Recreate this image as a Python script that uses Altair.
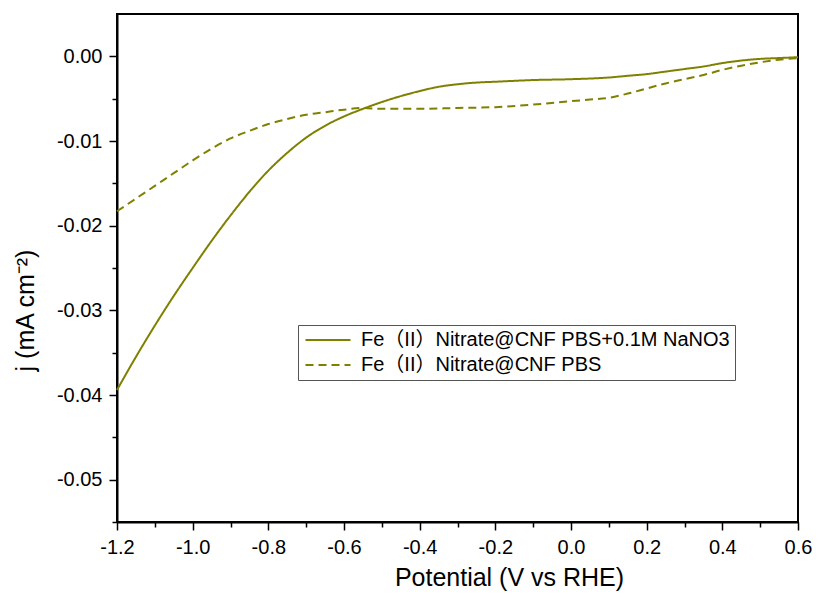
import altair as alt
import pandas as pd

series_names = ["Fe（II）Nitrate@CNF PBS+0.1M NaNO3", "Fe（II）Nitrate@CNF PBS"]

x_solid = [-1.2, -1.15, -1.1, -1.05, -1.0, -0.95, -0.9, -0.85, -0.8, -0.75, -0.7, -0.65,
           -0.6, -0.55, -0.5, -0.45, -0.4, -0.35, -0.3, -0.25, -0.2, -0.1, 0.0, 0.1,
           0.15, 0.2, 0.25, 0.3, 0.35, 0.4, 0.45, 0.5, 0.55, 0.6]
y_solid = [-0.0394, -0.0355, -0.0318, -0.0283, -0.0250, -0.0218, -0.0188, -0.0160, -0.0135,
           -0.0114, -0.0096, -0.0082, -0.0071, -0.0062, -0.0054, -0.0047, -0.0041, -0.0036,
           -0.0033, -0.0031, -0.0030, -0.0028, -0.0027, -0.0025, -0.0023, -0.0021, -0.0018,
           -0.0015, -0.0012, -0.0008, -0.0005, -0.0003, -0.0002, -0.0001]

x_dash = [-1.2, -1.15, -1.1, -1.05, -1.0, -0.95, -0.9, -0.85, -0.8, -0.75, -0.7, -0.65,
          -0.6, -0.55, -0.5, -0.4, -0.3, -0.2, -0.1, 0.0, 0.05, 0.1, 0.15, 0.2, 0.25,
          0.3, 0.35, 0.4, 0.45, 0.5, 0.55, 0.6]
y_dash = [-0.0183, -0.0168, -0.0153, -0.0138, -0.0123, -0.0109, -0.0097, -0.0088, -0.0080,
          -0.0074, -0.0069, -0.0066, -0.0063, -0.0061, -0.0062, -0.0062, -0.0061, -0.0060,
          -0.0057, -0.0053, -0.0051, -0.0049, -0.0044, -0.0038, -0.0032, -0.0027, -0.0022,
          -0.0016, -0.0011, -0.0007, -0.0004, -0.0002]

x_tick_values = [-1.2, -1.1, -1.0, -0.9, -0.8, -0.7, -0.6, -0.5, -0.4, -0.3, -0.2, -0.1,
                 0.0, 0.1, 0.2, 0.3, 0.4, 0.5, 0.6]
y_tick_values = [-0.055, -0.05, -0.045, -0.04, -0.035, -0.03, -0.025, -0.02, -0.015,
                 -0.01, -0.005, 0.0]

line_color = "#808000"
font = "Liberation Sans, Arial, Noto Sans CJK SC"

df = pd.concat([
    pd.DataFrame({"x": x_solid, "y": y_solid, "series": series_names[0]}),
    pd.DataFrame({"x": x_dash, "y": y_dash, "series": series_names[1]}),
])

x_major = "abs(datum.value*5 - round(datum.value*5)) < 1e-6"
y_major = "abs(datum.value*100 - round(datum.value*100)) < 1e-6"

x_axis = alt.Axis(
    values=x_tick_values,
    title="Potential (V vs RHE)",
    grid=False,
    domainColor="black", domainWidth=2,
    tickColor="black", tickWidth=1.5,
    tickSize={"condition": {"test": x_major, "value": 8}, "value": 5},
    labelExpr="(" + x_major + ") ? replace(format(datum.value, '.1f'), '\u2212', '-') : ''",
    labelFont=font, labelFontSize=20, labelColor="black", labelPadding=7,
    labelFlush=False,
    titleFont=font, titleFontSize=25, titleFontWeight="normal", titleColor="black",
    titleX=392, titleY=63, titleAlign="center", titleBaseline="alphabetic",
)
y_axis = alt.Axis(
    values=y_tick_values,
    title="j (mA cm⁻²)",
    grid=False,
    domainColor="black", domainWidth=2,
    tickColor="black", tickWidth=1.5,
    tickSize={"condition": {"test": y_major, "value": 8}, "value": 5},
    labelExpr="(" + y_major + ") ? replace(format(datum.value, '.2f'), '\u2212', '-') : ''",
    labelFont=font, labelFontSize=20, labelColor="black", labelPadding=7,
    labelFlush=False,
    titleFont=font, titleFontSize=25, titleFontWeight="normal", titleColor="black",
    titleX=-84, titleY=296, titleAlign="center", titleBaseline="alphabetic", titleAngle=270,
)

legend = alt.Legend(
    orient="none", legendX=181, legendY=311,
    strokeColor="#555555", fillColor="white", padding=5,
    symbolType="M-1,0L5,0", symbolSize=225, symbolStrokeWidth=2,
    labelFont=font, labelFontSize=20, labelColor="black", labelOffset=38,
    labelLimit=1000, rowPadding=5,
)

chart = alt.Chart(df).mark_line(strokeWidth=2, interpolate="monotone").encode(
    x=alt.X("x:Q", scale=alt.Scale(domain=[-1.2, 0.6], nice=False, zero=False), axis=x_axis),
    y=alt.Y("y:Q", scale=alt.Scale(domain=[-0.055, 0.005], nice=False, zero=False), axis=y_axis),
    color=alt.Color("series:N", title=None,
                    scale=alt.Scale(domain=series_names, range=[line_color, line_color]),
                    legend=legend),
    strokeDash=alt.StrokeDash("series:N", title=None,
                              scale=alt.Scale(domain=series_names, range=[[1, 0], [8, 5]]),
                              legend=legend),
).properties(
    width=681, height=508,
    autosize=alt.AutoSizeParams(type="none"),
    padding={"left": 109, "top": 6, "right": 14, "bottom": 69},
    background="white",
).configure_view(stroke="black", strokeWidth=2)

chart.save("out.html", embed_options={"renderer": "svg", "actions": False})
